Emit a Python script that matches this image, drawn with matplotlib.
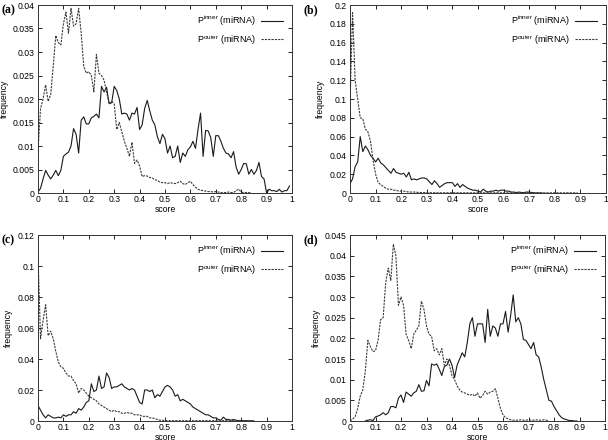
import numpy as np
import matplotlib
matplotlib.use("Agg")
import matplotlib.pyplot as plt
from matplotlib.ticker import FuncFormatter

plt.rcParams["font.family"] = ["Liberation Sans", "DejaVu Sans"]
plt.rcParams["mathtext.fontset"] = "custom"
plt.rcParams["mathtext.rm"] = "Liberation Sans"

STEP = 0.01

# ---- panel (a) ----
a_inner_start = 0.0
a_inner = [0.0002, 0.001, 0.003, 0.0048, 0.0038, 0.003, 0.0038, 0.0048, 0.0037, 0.0048,
           0.0078, 0.0083, 0.0087, 0.010, 0.0137, 0.0125, 0.0085, 0.0155, 0.0162, 0.0147,
           0.0147, 0.016, 0.0163, 0.0168, 0.016, 0.0227, 0.0215, 0.0225, 0.019, 0.0192,
           0.0227, 0.0218, 0.020, 0.0168, 0.017, 0.0168, 0.0155, 0.017, 0.0168, 0.0182,
           0.0135, 0.0145, 0.018, 0.0197, 0.0175, 0.0155, 0.0145, 0.012, 0.0105, 0.0125,
           0.0115, 0.0085, 0.010, 0.0075, 0.0078, 0.010, 0.0065, 0.0085, 0.0078, 0.0092,
           0.0098, 0.011, 0.0095, 0.0135, 0.017, 0.0078, 0.0133, 0.0132, 0.0118, 0.0078,
           0.0122, 0.0122, 0.011, 0.0095, 0.0085, 0.0083, 0.0075, 0.0088, 0.0055, 0.004,
           0.005, 0.0063, 0.0062, 0.004, 0.005, 0.004, 0.0048, 0.0065, 0.0035, 0.003,
           0.0, 0.0008, 0.0005, 0.0005, 0.0003, 0.0008, 0.0002, 0.0005, 0.0005, 0.0015]
a_outer_start = 0.0
a_outer = [0.009, 0.018, 0.020, 0.023, 0.0195, 0.021, 0.027, 0.0335, 0.032, 0.0315,
           0.036, 0.0385, 0.034, 0.0393, 0.0355, 0.036, 0.0393, 0.034, 0.027, 0.0255,
           0.0258, 0.025, 0.0215, 0.0295, 0.0255, 0.025, 0.024, 0.0215, 0.019, 0.0195,
           0.019, 0.0135, 0.015, 0.013, 0.011, 0.0095, 0.0078, 0.0108, 0.0063, 0.007,
           0.0058, 0.0035, 0.0037, 0.0036, 0.0033, 0.0032, 0.0028, 0.0027, 0.0023, 0.0022,
           0.0022, 0.002, 0.0022, 0.0021, 0.002, 0.0022, 0.0025, 0.002, 0.0018, 0.0022,
           0.0025, 0.0018, 0.0012, 0.0008, 0.0006, 0.0005, 0.0004, 0.0003, 0.0003, 0.0002,
           0.0003, 0.0002, 0.0001, 0.0001, 0.0001, 0.0002, 0.0001, 0.0001, 0.0005, 0.0008,
           0.0002, 0.0001, 0.0001, 0.0001, 0.0]

# ---- panel (b) ----
b_inner_start = 0.0
b_inner = [0.010, 0.015, 0.028, 0.033, 0.060, 0.044, 0.050, 0.046, 0.040, 0.037,
           0.033, 0.037, 0.032, 0.030, 0.027, 0.024, 0.021, 0.026, 0.022, 0.021,
           0.020, 0.021, 0.017, 0.022, 0.014, 0.015, 0.014, 0.015, 0.016, 0.016,
           0.015, 0.012, 0.009, 0.013, 0.010, 0.006, 0.008, 0.010, 0.011, 0.011,
           0.011, 0.007, 0.010, 0.006, 0.009, 0.007, 0.005, 0.004, 0.003, 0.003,
           0.002, 0.001, 0.004, 0.002, 0.001, 0.002, 0.002, 0.003, 0.002, 0.003,
           0.003, 0.002, 0.002, 0.001, 0.001, 0.0005, 0.001, 0.0005, 0.0005, 0.001,
           0.001, 0.0005, 0.0, 0.0, 0.0, 0.0]
b_outer_start = 0.0
b_outer = [0.095, 0.192, 0.120, 0.100, 0.080, 0.079, 0.068, 0.065, 0.055, 0.035,
           0.020, 0.011, 0.009, 0.007, 0.005, 0.004, 0.004, 0.003, 0.003, 0.002,
           0.002, 0.002, 0.0015, 0.001, 0.001, 0.001, 0.0008, 0.0005, 0.0005, 0.0004,
           0.0004, 0.0003, 0.0003, 0.0003, 0.0002, 0.0002, 0.0002, 0.0002, 0.0002, 0.0002,
           0.0002, 0.0002, 0.0002, 0.0002, 0.0002, 0.0002, 0.0002, 0.0002, 0.0002, 0.0002,
           0.0002, 0.0002, 0.0002, 0.0002, 0.0002, 0.0002, 0.0002, 0.0002, 0.0002, 0.0002,
           0.0002, 0.0002, 0.0002, 0.0002, 0.0002, 0.0002, 0.0002, 0.0002, 0.0002, 0.0002,
           0.0002, 0.0002, 0.0002, 0.0002, 0.0002, 0.0002, 0.0002, 0.0002, 0.0002, 0.0002,
           0.0002, 0.0002, 0.0002, 0.0002, 0.0002, 0.0002, 0.0002, 0.0002, 0.0002, 0.0]

# ---- panel (c) ----
c_inner_start = 0.0
c_inner = [0.010, 0.007, 0.004, 0.002, 0.004, 0.003, 0.002, 0.002, 0.0025, 0.002,
           0.004, 0.003, 0.004, 0.004, 0.006, 0.005, 0.008, 0.007, 0.009, 0.012,
           0.013, 0.024, 0.019, 0.020, 0.029, 0.021, 0.022, 0.031, 0.028, 0.021,
           0.022, 0.022, 0.023, 0.024, 0.022, 0.021, 0.020, 0.021, 0.020, 0.016,
           0.012, 0.011, 0.020, 0.020, 0.019, 0.020, 0.015, 0.017, 0.016, 0.019,
           0.022, 0.023, 0.022, 0.020, 0.016, 0.017, 0.013, 0.014, 0.013, 0.012,
           0.011, 0.009, 0.008, 0.007, 0.006, 0.005, 0.004, 0.004, 0.003, 0.002,
           0.002, 0.001, 0.0005, 0.0025, 0.001, 0.001, 0.0005, 0.001, 0.0005, 0.0003,
           0.0003, 0.0002, 0.0002, 0.0001, 0.0001, 0.0]
c_outer_start = 0.0
c_outer = [0.107, 0.053, 0.065, 0.075, 0.055, 0.058, 0.053, 0.045, 0.038, 0.035,
           0.034, 0.031, 0.029, 0.029, 0.026, 0.024, 0.018, 0.021, 0.020, 0.018,
           0.016, 0.015, 0.014, 0.013, 0.011, 0.010, 0.009, 0.008, 0.007, 0.006,
           0.007, 0.006, 0.006, 0.005, 0.005, 0.0055, 0.005, 0.005, 0.004, 0.004,
           0.004, 0.003, 0.003, 0.003, 0.002, 0.002, 0.0015, 0.001, 0.0005, 0.0005,
           0.0002, 0.0002, 0.0002, 0.0002, 0.0002, 0.0002, 0.0002, 0.0002, 0.0002, 0.0002,
           0.0002, 0.0002, 0.0002, 0.0002, 0.0002, 0.0002, 0.0002, 0.0002, 0.0002, 0.0002,
           0.0002, 0.0002, 0.0002, 0.0002, 0.0002, 0.0002, 0.0002, 0.0002, 0.0002, 0.0002,
           0.0002, 0.0002, 0.0001, 0.0001, 0.0001, 0.0]

# ---- panel (d) ----
d_inner_start = 0.06
d_inner = [0.0, 0.0002, 0.0003, 0.0001, 0.001, 0.0012, 0.0015, 0.002, 0.0015, 0.002,
           0.0035, 0.0035, 0.0032, 0.0055, 0.0063, 0.0045, 0.007, 0.0065, 0.006, 0.0068,
           0.0072, 0.0088, 0.0072, 0.0073, 0.0098, 0.0085, 0.0138, 0.0135, 0.0138, 0.0125,
           0.011, 0.0132, 0.0135, 0.015, 0.0135, 0.0105, 0.0135, 0.015, 0.0165, 0.0155,
           0.019, 0.0235, 0.025, 0.0205, 0.0235, 0.0235, 0.0235, 0.019, 0.027, 0.0205,
           0.023, 0.0225, 0.0205, 0.0235, 0.0235, 0.0265, 0.0215, 0.0255, 0.0305, 0.024,
           0.025, 0.0235, 0.0197, 0.0195, 0.0185, 0.0175, 0.019, 0.016, 0.0155, 0.013,
           0.010, 0.0075, 0.005, 0.0048, 0.0035, 0.0025, 0.0015, 0.0008, 0.0005, 0.0003,
           0.0001, 0.0001, 0.0, 0.0]
d_outer_start = 0.0
d_outer = [0.0, 0.0005, 0.001, 0.003, 0.006, 0.0075, 0.012, 0.0195, 0.018, 0.0168,
           0.017, 0.0195, 0.0245, 0.025, 0.0335, 0.037, 0.034, 0.0428, 0.040, 0.028,
           0.030, 0.028, 0.021, 0.0195, 0.0175, 0.021, 0.022, 0.023, 0.029, 0.027,
           0.023, 0.021, 0.0205, 0.017, 0.0175, 0.016, 0.0175, 0.0135, 0.015, 0.0135,
           0.011, 0.010, 0.0085, 0.0075, 0.007, 0.0068, 0.0065, 0.0062, 0.0065, 0.006,
           0.0068, 0.0055, 0.0062, 0.0072, 0.0065, 0.007, 0.0072, 0.0078, 0.0055, 0.003,
           0.0015, 0.0008, 0.0005, 0.0003, 0.0002, 0.0002, 0.0002, 0.0003, 0.0002, 0.0002,
           0.0003, 0.0002, 0.0002, 0.0003, 0.0002, 0.0002, 0.0003, 0.0002, 0.0]

panels = [
    ("(a)", a_inner_start, a_inner, a_outer_start, a_outer, 0.04, 0.005),
    ("(b)", b_inner_start, b_inner, b_outer_start, b_outer, 0.2, 0.02),
    ("(c)", c_inner_start, c_inner, c_outer_start, c_outer, 0.12, 0.02),
    ("(d)", d_inner_start, d_inner, d_outer_start, d_outer, 0.045, 0.005),
]

# axes rectangles in figure fractions (608 x 440 px)
W, H = 608.0, 440.0
rects = [
    (38 / W, 1 - 193 / H, 254 / W, 188 / H),
    (350 / W, 1 - 193 / H, 256 / W, 188 / H),
    (38 / W, 1 - 421 / H, 254 / W, 186 / H),
    (350 / W, 1 - 421 / H, 255 / W, 186 / H),
]
label_pos = [(1 / W, 1 - 10 / H), (303 / W, 1 - 10 / H),
             (1 / W, 1 - 240 / H), (303 / W, 1 - 240 / H)]

fs = 6.2
fig = plt.figure(figsize=(6.08, 4.40), dpi=100)

for (lab, si, inner, so, outer, ymax, ystep), rect, lp in zip(panels, rects, label_pos):
    ax = fig.add_axes(rect)
    xi = si + STEP * np.arange(len(inner))
    xo = so + STEP * np.arange(len(outer))
    ax.plot(xi, inner, color="#1a1a1a", lw=0.8,
            label=r"P$^{\mathrm{inner}}$ (miRNA)")
    ax.plot(xo, outer, color="#3a3a3a", lw=0.8, dashes=(2.0, 1.0),
            label=r"P$^{\mathrm{outer}}$ (miRNA)")
    ax.set_xlim(0, 1)
    ax.set_ylim(0, ymax)
    ax.set_xticks(np.arange(0, 1.0001, 0.1))
    ax.set_yticks(np.arange(0, ymax + ystep / 2, ystep))
    fmt = FuncFormatter(lambda v, p: f"{round(v, 4):g}")
    ax.xaxis.set_major_formatter(fmt)
    ax.yaxis.set_major_formatter(fmt)
    ax.tick_params(direction="in", length=3, width=0.6, labelsize=fs,
                   top=True, right=True)
    ax.tick_params(axis="x", pad=1.5)
    ax.tick_params(axis="y", pad=2.5)
    for s in ax.spines.values():
        s.set_linewidth(0.7)
        s.set_color("#333333")
    ax.set_xlabel("score", fontsize=fs, labelpad=0.3)
    ax.set_ylabel("frequency", fontsize=fs, labelpad=3)
    ax.legend(loc="upper right", frameon=False, markerfirst=False,
              fontsize=fs + 0.3, handlelength=2.4, handletextpad=0.6,
              labelspacing=0.5, borderaxespad=0.6)
    fig.text(lp[0], lp[1], lab, fontsize=8.5, fontweight="bold",
             family="Liberation Serif", va="center", ha="left")

fig.savefig("out.png", dpi=100)
